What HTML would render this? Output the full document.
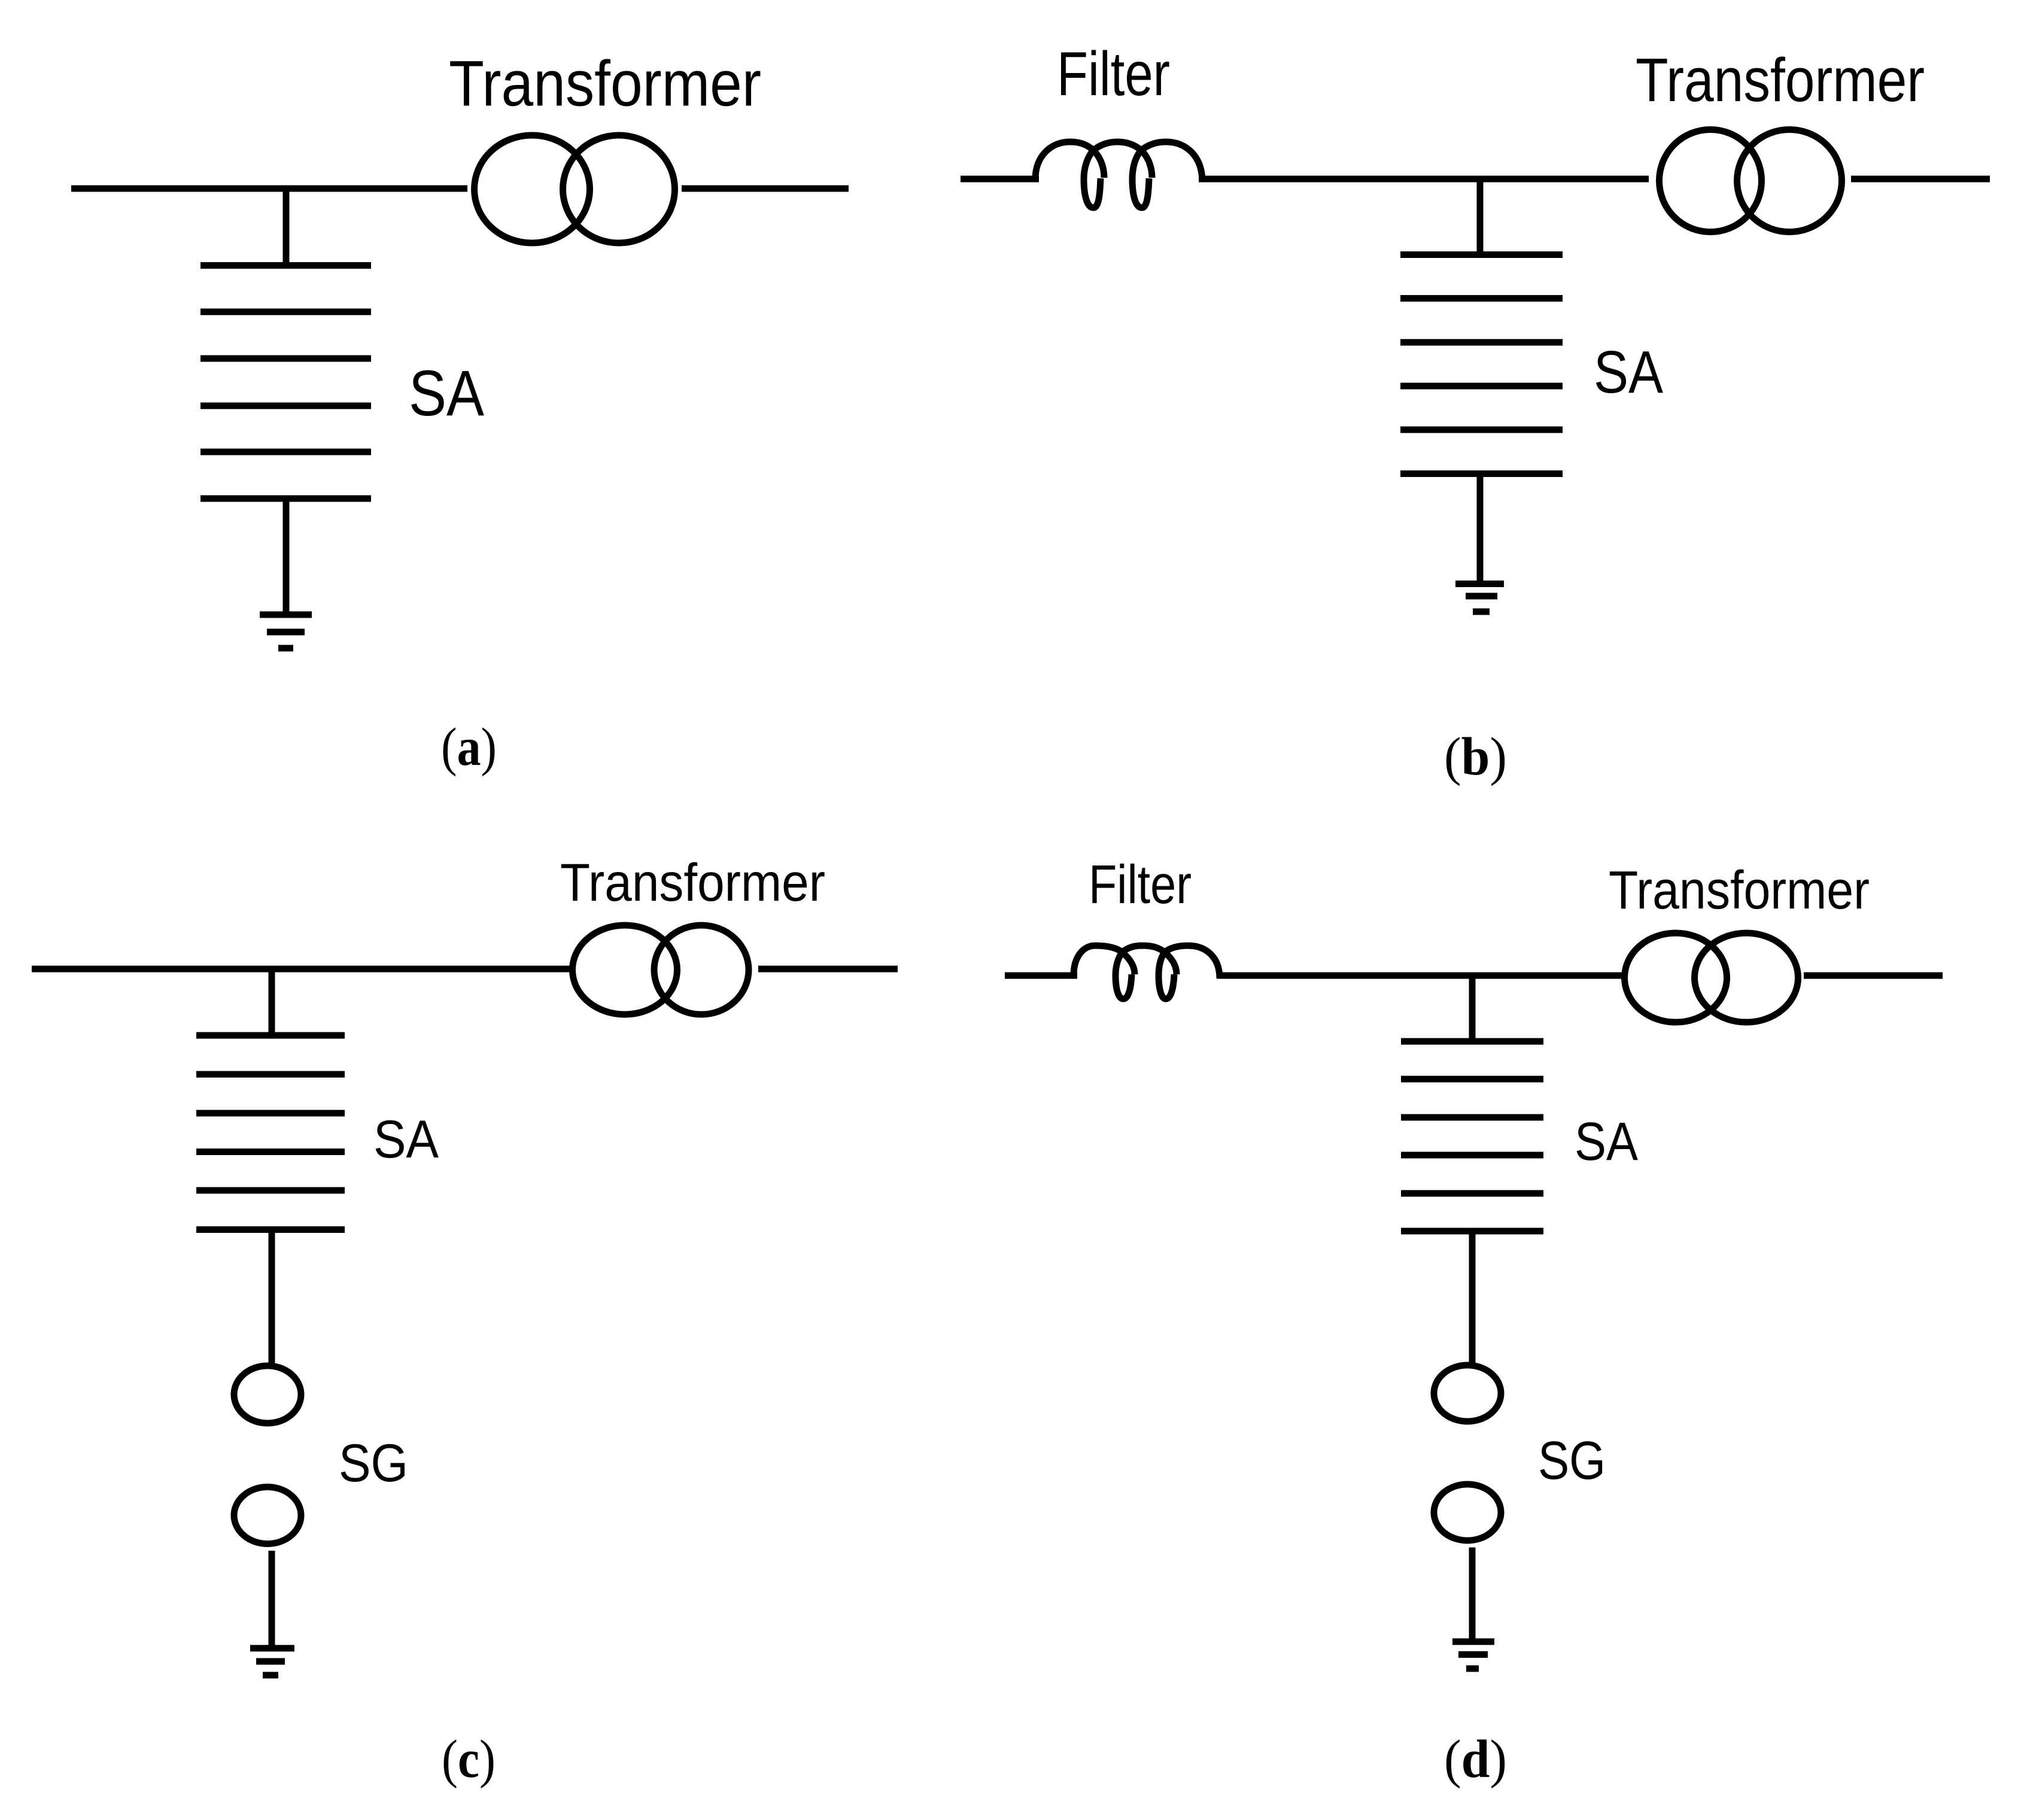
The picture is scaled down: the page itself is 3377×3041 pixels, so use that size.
<!DOCTYPE html>
<html>
<head>
<meta charset="utf-8">
<style>
html,body{margin:0;padding:0;background:#fff}
svg{display:block}
.l{fill:none;stroke:#000;stroke-width:11}
.s{font-family:"Liberation Sans",sans-serif;fill:#000}
.t{font-family:"Liberation Serif",serif;fill:#000;font-size:90px}
.t tspan{font-weight:bold}
</style>
</head>
<body>
<svg xmlns="http://www.w3.org/2000/svg" width="3377" height="3041" viewBox="0 0 3377 3041">
<rect width="3377" height="3041" fill="#fff"/>

<!-- (a) -->
<g class="l">
<path d="M119 315H781M1139 315H1418"/>
<path d="M478 315V443M478 833V1027"/>
<path d="M335 443.5H620M335 521H620M335 599H620M335 678H620M335 755H620M335 833H620"/>
<path d="M434 1027H521M446 1056H509M465 1083H490"/>
<ellipse cx="889" cy="316" rx="96.5" ry="90"/>
<ellipse cx="1034" cy="316" rx="93.5" ry="90"/>
</g>
<text class="s" x="750" y="176.5" font-size="108" textLength="522" lengthAdjust="spacingAndGlyphs">Transformer</text>
<text class="s" x="683" y="694" font-size="108" textLength="126" lengthAdjust="spacingAndGlyphs">SA</text>
<text class="t" x="737" y="1278" textLength="93" lengthAdjust="spacingAndGlyphs">(<tspan>a</tspan>)</text>

<!-- (b) -->
<g class="l">
<path d="M1605 299H1736M2003 299H2755M3093 299H3325"/>
<path d="M1730 304V299C1730 262 1755 237 1788 237C1807 237 1818 243 1827 251C1838 262 1845 278 1845 297"/>
<path d="M1839 298C1838 325 1836 347 1827 347C1816 347 1811 325 1811 299C1811 280 1817 262 1827 251C1837 243 1850 237 1867 237C1885 237 1897 243 1907 251C1918 262 1925 278 1925 297"/>
<path d="M1920 298C1919 325 1917 347 1908 347C1897 347 1892 325 1892 299C1892 280 1897 262 1907 251C1917 243 1930 237 1948 237C1983 237 2009 262 2009 304"/>
<path d="M2473 299V425M2473 791V975"/>
<path d="M2340 425.500H2611M2340 498.500H2611M2340 572H2611M2340 645H2611M2340 718H2611M2340 791.500H2611"/>
<path d="M2432 975.500H2513M2449 996H2502M2461 1022H2489"/>
<ellipse cx="2858" cy="302" rx="85.5" ry="85.5"/>
<ellipse cx="2990" cy="302" rx="87.5" ry="85.5"/>
</g>
<text class="s" x="1766" y="159" font-size="104" textLength="189" lengthAdjust="spacingAndGlyphs">Filter</text>
<text class="s" x="2733" y="169" font-size="103" textLength="483" lengthAdjust="spacingAndGlyphs">Transformer</text>
<text class="s" x="2663" y="656" font-size="100" textLength="116" lengthAdjust="spacingAndGlyphs">SA</text>
<text class="t" x="2413" y="1294" textLength="105" lengthAdjust="spacingAndGlyphs">(<tspan>b</tspan>)</text>

<!-- (c) -->
<g class="l">
<path d="M53 1619H952M1267 1619H1500"/>
<path d="M454 1619V1730M454 2054V2280M454 2591V2754"/>
<path d="M328 1730H576M328 1795H576M328 1860H576M328 1924.500H576M328 1989H576M328 2054.500H576"/>
<path d="M418 2754H492M428 2776H476M439 2799H465"/>
<ellipse cx="1044" cy="1620.500" rx="87.500" ry="74.500"/>
<ellipse cx="1172" cy="1620.500" rx="79" ry="74.500"/>
<ellipse cx="447" cy="2330" rx="56" ry="48"/>
<ellipse cx="447" cy="2532" rx="56" ry="47.500"/>
</g>
<text class="s" x="936" y="1505" font-size="89" textLength="443" lengthAdjust="spacingAndGlyphs">Transformer</text>
<text class="s" x="624" y="1934" font-size="89" textLength="109" lengthAdjust="spacingAndGlyphs">SA</text>
<text class="s" x="566" y="2475" font-size="89" textLength="116" lengthAdjust="spacingAndGlyphs">SG</text>
<text class="t" x="738" y="2969" textLength="90" lengthAdjust="spacingAndGlyphs">(<tspan>c</tspan>)</text>

<!-- (d) -->
<g class="l">
<path d="M1679 1630H1800M2034 1630H2712M3014 1630H3246"/>
<path d="M1794 1635V1630C1794 1600 1809 1580 1830 1580C1850 1580 1865 1583 1875 1591C1887 1601 1896 1613 1896 1628"/>
<path d="M1891 1628C1890 1650 1886 1669 1877 1669C1868 1669 1864 1650 1864 1630C1864 1615 1868 1601 1875 1591C1885 1583 1895 1580 1909 1580C1925 1580 1936 1583 1946 1591C1958 1601 1966 1613 1966 1628"/>
<path d="M1962 1628C1961 1650 1957 1669 1948 1669C1940 1669 1936 1650 1936 1630C1936 1615 1939 1601 1946 1591C1956 1583 1970 1580 1985 1580C2016 1580 2038 1600 2038 1635"/>
<path d="M2460 1630V1740M2460 2057V2280M2460 2585.500V2743"/>
<path d="M2341 1740H2579M2341 1803H2579M2341 1867H2579M2341 1930H2579M2341 1994H2579M2341 2057H2579"/>
<path d="M2427 2743H2497M2437 2764.500H2486M2450 2788H2471"/>
<ellipse cx="2800" cy="1633.500" rx="85.500" ry="74.500"/>
<ellipse cx="2918" cy="1633.500" rx="86.500" ry="74.500"/>
<ellipse cx="2452" cy="2328" rx="56" ry="47"/>
<ellipse cx="2452" cy="2527" rx="56" ry="47"/>
</g>
<text class="s" x="1819" y="1509" font-size="91" textLength="172" lengthAdjust="spacingAndGlyphs">Filter</text>
<text class="s" x="2688" y="1518" font-size="90" textLength="436" lengthAdjust="spacingAndGlyphs">Transformer</text>
<text class="s" x="2631" y="1938" font-size="90" textLength="106" lengthAdjust="spacingAndGlyphs">SA</text>
<text class="s" x="2570" y="2471" font-size="90" textLength="113" lengthAdjust="spacingAndGlyphs">SG</text>
<text class="t" x="2413" y="2969" textLength="105" lengthAdjust="spacingAndGlyphs">(<tspan>d</tspan>)</text>
</svg>
</body>
</html>
